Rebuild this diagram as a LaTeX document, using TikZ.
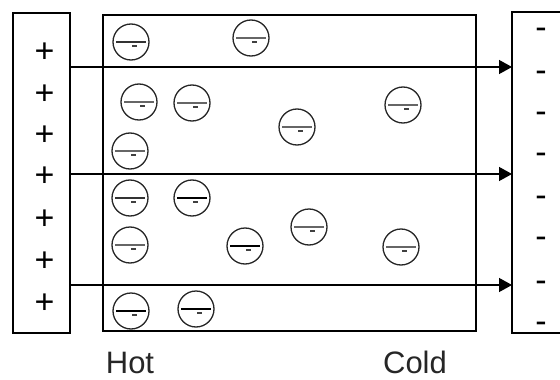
\documentclass[tikz,border=0pt]{standalone}
\usepackage{fontspec}
\setmainfont{Liberation Sans}
\usetikzlibrary{arrows.meta}

\tikzset{
  plate/.style={draw=black, line width=1.7pt, inner sep=0pt, outer sep=0pt},
  field/.style={draw=black, line width=1.4pt, -{Triangle[length=13pt,width=14pt]}},
  ion/.style={circle, draw=black!85, line width=1.3pt, minimum size=36pt, inner sep=0pt},
  barthin/.style={draw=black!60, line width=1.2pt},
  barmid/.style={draw=black!80, line width=1.6pt},
  barthick/.style={draw=black, line width=2.4pt},
  tickmark/.style={draw=black!75, line width=1.2pt},
  charge/.style={font=\fontsize{34}{34}\selectfont, inner sep=0pt, anchor=base},
  label/.style={font=\fontsize{31}{31}\selectfont, text=black!85, inner sep=0pt, anchor=base}
}

\begin{document}
\begin{tikzpicture}[x=1pt,y=-1pt]
  \useasboundingbox (0,0) rectangle (560,380);
  \clip (0,0) rectangle (560,380);

  % positive plate, conductor and negative plate
  \node[plate, minimum width=57pt, minimum height=320pt] (pos) at (41.5,173) {};
  \node[plate, minimum width=373pt, minimum height=316pt] (rod) at (289.5,173) {};
  \node[plate, minimum width=80pt, minimum height=321pt] (neg) at (552,172.5) {};

  % field lines from the positive to the negative plate
  \foreach \k/\y in {1/67, 2/174, 3/285} {
    \coordinate (f\k) at (69,\y);
    \draw[field] (f\k) -- (f\k -| neg.west);
  }

  % plate charges
  \foreach \y in {50,92,133,174,217,259,301}
    \node[charge] at (44.5,\y+12) {+};
  \foreach \y in {29,72,113,154,197,238,282,323}
    \node[charge] at (541,\y+9) {-};

  % electrons
  \foreach \n/\x/\y/\w in {
      1/131/42/mid, 2/251/38/thin, 3/139/102/thin, 4/192/103/thin,
      5/130/151/thin, 6/297/127/thin, 7/403/105/thin, 8/130/198/mid,
      9/192/198/thick, 10/130/245/thin, 11/245/246/thick, 12/309/227/thin,
      13/401/247/thin, 14/131/311/thick, 15/196/309/thick} {
    \node[ion] (e\n) at (\x,\y) {};
    \draw[bar\w] ([xshift=-15pt]e\n.center) -- ([xshift=15pt]e\n.center);
    \draw[tickmark] ([xshift=1pt,yshift=-4pt]e\n.center) -- ([xshift=6pt,yshift=-4pt]e\n.center);
  }

  % ends of the conductor
  \node[label] (hot) at (130,373) {Hot};
  \node[label] (cold) at (415,373) {Cold};
\end{tikzpicture}
\end{document}
